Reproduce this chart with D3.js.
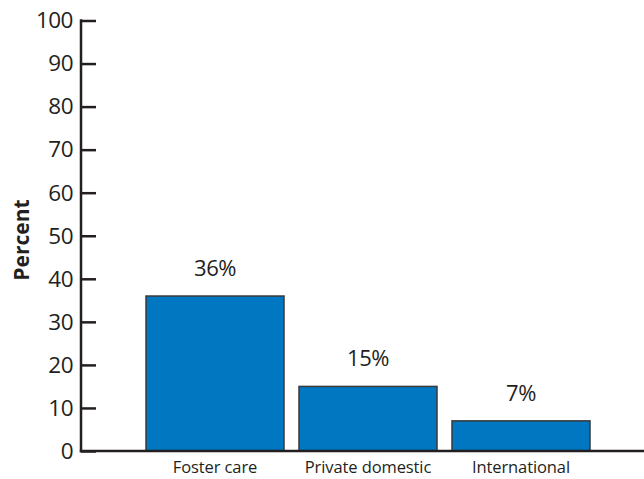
<!DOCTYPE html>
<html>
<head>
<meta charset="utf-8">
<script src="https://cdn.jsdelivr.net/npm/d3@7"></script>
<style>
  html, body { margin: 0; padding: 0; background: #fff; }
  svg { display: block; }
  text { font-family: "Open Sans", "Noto Sans", sans-serif; fill: #231f20; }
</style>
</head>
<body>
<svg id="chart" width="644" height="479"></svg>
<script>
const categories = ["Foster care", "Private domestic", "International"];
const values = [36, 15, 7];
const valueLabels = ["36%", "15%", "7%"];
const yTicks = [0, 10, 20, 30, 40, 50, 60, 70, 80, 90, 100];
const yTitle = "Percent";

const svg = d3.select("#chart");
const axisX = 81, y0 = 451, y100 = 20.5;
const y = d3.scaleLinear().domain([0, 100]).range([y0, y100]);
const x = d3.scaleBand().domain(categories).range([146, 590]).paddingInner(0.098).paddingOuter(0);

// bars
svg.selectAll("rect.bar").data(values).enter().append("rect")
  .attr("class", "bar")
  .attr("x", (d, i) => x(categories[i]))
  .attr("width", x.bandwidth())
  .attr("y", d => y(d))
  .attr("height", d => y(0) - y(d))
  .attr("fill", "#0077c0")
  .attr("stroke", "#3a3a3a")
  .attr("stroke-width", 1.5);

// y axis ticks
const yAxis = d3.axisRight(y).tickValues(yTicks).tickSize(15).tickFormat("");
const gy = svg.append("g").attr("transform", `translate(${axisX},0)`).call(yAxis);
gy.select(".domain").remove();
gy.selectAll(".tick line").attr("stroke", "#231f20").attr("stroke-width", 2.5);
svg.append("line").attr("x1", axisX).attr("x2", axisX).attr("y1", y(100) - 1.2).attr("y2", y(0) + 1.2)
  .attr("stroke", "#231f20").attr("stroke-width", 2.5);

// tick labels
svg.selectAll("text.ytick").data(yTicks).enter().append("text")
  .attr("class", "ytick")
  .attr("x", 73).attr("y", d => y(d) + 7.8)
  .attr("text-anchor", "end")
  .attr("font-size", 22.5)
  .attr("letter-spacing", -0.5)
  .text(d => d);

// bottom baseline
svg.append("line").attr("x1", axisX - 1.2).attr("x2", 644).attr("y1", y(0)).attr("y2", y(0))
  .attr("stroke", "#231f20").attr("stroke-width", 2.5);

// value labels
svg.selectAll("text.val").data(values).enter().append("text")
  .attr("class", "val")
  .attr("x", (d, i) => x(categories[i]) + x.bandwidth() / 2)
  .attr("y", d => y(d) - 20)
  .attr("text-anchor", "middle")
  .attr("font-size", 22)
  .attr("letter-spacing", -0.5)
  .text((d, i) => valueLabels[i]);

// category labels
svg.selectAll("text.cat").data(categories).enter().append("text")
  .attr("class", "cat")
  .attr("x", d => x(d) + x.bandwidth() / 2)
  .attr("y", 473)
  .attr("text-anchor", "middle")
  .attr("font-size", 16.5)
  .attr("letter-spacing", -0.1)
  .text(d => d);

// y title
svg.append("text")
  .attr("transform", `translate(28.5,240) rotate(-90)`)
  .attr("text-anchor", "middle")
  .attr("font-size", 21)
  .attr("font-weight", "bold")
  .text(yTitle);
</script>
</body>
</html>
